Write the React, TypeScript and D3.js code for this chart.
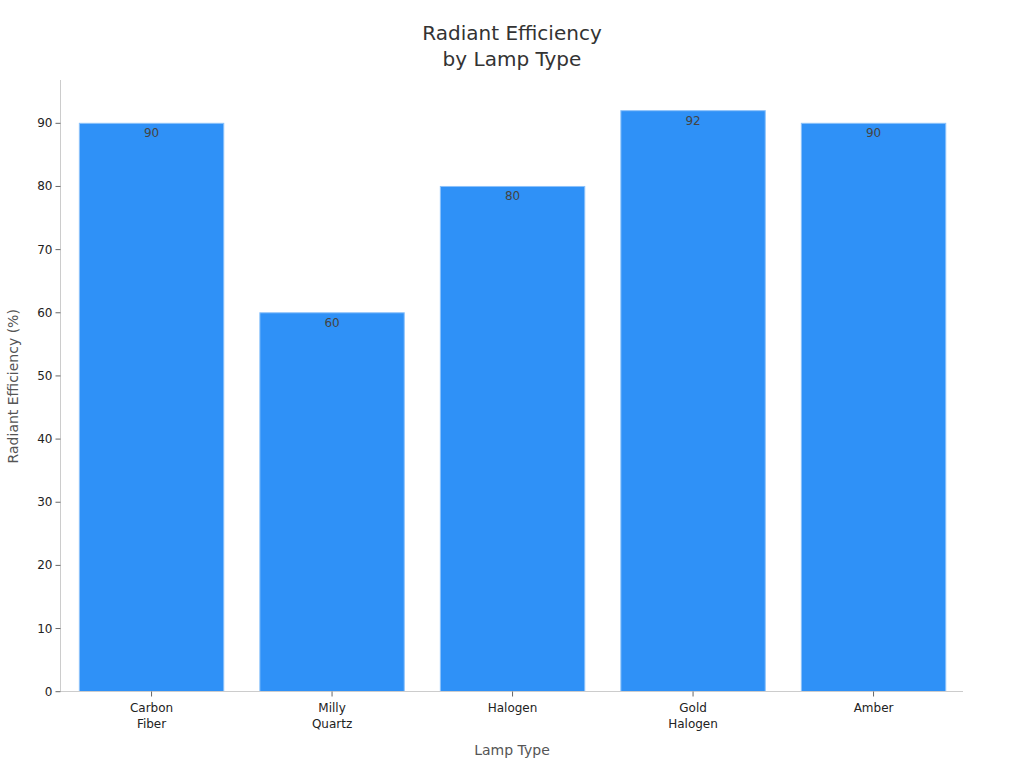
import React from "react";
import * as d3 from "d3";

const categories: string[][] = [["Carbon", "Fiber"], ["Milly", "Quartz"], ["Halogen"], ["Gold", "Halogen"], ["Amber"]];
const values: number[] = [90, 60, 80, 92, 90];
const yTicks: number[] = [0, 10, 20, 30, 40, 50, 60, 70, 80, 90];

const W = 1024, H = 768;
const left = 60.5, right = 963, top = 81, bottom = 691.5;
const font = "DejaVu Sans, sans-serif";

export default function App() {
  const keys = categories.map((c) => c.join(" "));
  const x = d3.scaleBand<string>().domain(keys).range([left + 0.8, right + 0.8]).paddingInner(0.2).paddingOuter(0.1);
  const y = d3.scaleLinear().domain([0, 96.7]).range([bottom + 0.2, top]);
  return (
    <svg width={W} height={H} style={{ position: "absolute", left: 0, top: 0, fontFamily: font }}>
      <rect width={W} height={H} fill="#fff" />
      <text x={512} y={40} textAnchor="middle" fontSize={20} fill="#333">Radiant Efficiency</text>
      <text x={512} y={66} textAnchor="middle" fontSize={20} fill="#333">by Lamp Type</text>
      {values.map((v, i) => (
        <g key={i}>
          <rect x={x(keys[i])!} y={y(v)} width={x.bandwidth()} height={bottom - y(v)} fill="#2F91F7" stroke="#8CC2FA" strokeWidth={1} />
          <text x={x(keys[i])! + x.bandwidth() / 2} y={y(v) + 14} textAnchor="middle" fontSize={12} fill="#444">{v}</text>
        </g>
      ))}
      <line x1={left} x2={left} y1={top - 1} y2={bottom} stroke="#ccc" />
      <line x1={left} x2={right} y1={bottom} y2={bottom} stroke="#ccc" />
      {yTicks.map((t) => (
        <g key={t}>
          <line x1={left - 5} x2={left} y1={y(t)} y2={y(t)} stroke="#666" />
          <text x={left - 8} y={y(t) + 4} textAnchor="end" fontSize={12} fill="#222">{t}</text>
        </g>
      ))}
      {keys.map((k, i) => {
        const cx = x(k)! + x.bandwidth() / 2;
        return (
          <g key={k}>
            <line x1={cx} x2={cx} y1={bottom} y2={bottom + 5} stroke="#666" />
            {categories[i].map((line, j) => (
              <text key={j} x={cx} y={711.5 + j * 16} textAnchor="middle" fontSize={12} fill="#222">{line}</text>
            ))}
          </g>
        );
      })}
      <text x={512} y={755} textAnchor="middle" fontSize={14} fill="#555">Lamp Type</text>
      <text transform={`translate(17.5, ${(top + bottom) / 2}) rotate(-90)`} textAnchor="middle" fontSize={14} fill="#555">Radiant Efficiency (%)</text>
    </svg>
  );
}
